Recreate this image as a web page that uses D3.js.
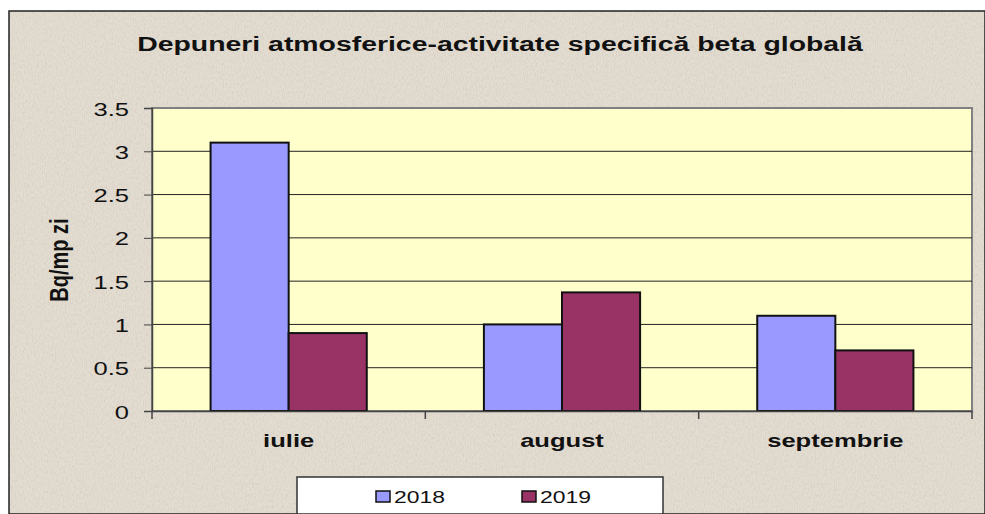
<!DOCTYPE html>
<html>
<head>
<meta charset="utf-8">
<script src="https://cdn.jsdelivr.net/npm/d3@7"></script>
<style>
  body { margin: 0; background: #fff; }
  svg { display: block; font-family: Arial, "Liberation Sans", sans-serif; }
</style>
</head>
<body>
<svg width="985" height="514"></svg>
<script>
"use strict";

var months = ["iulie", "august", "septembrie"];
var years = ["2018", "2019"];
var values2018 = [3.1, 1.0, 1.1];
var values2019 = [0.9, 1.37, 0.7];
var yTicks = [0, 0.5, 1, 1.5, 2, 2.5, 3, 3.5];

var color = { "2018": "#9999ff", "2019": "#993366" };

// the original picture is stretched sideways, so text is widened too
var stretch = 1.42;

var svg = d3.select("svg"),
    width = +svg.attr("width"),
    height = +svg.attr("height");

var defs = svg.append("defs");
var noise = defs.append("filter").attr("id", "paper").attr("x", 0).attr("y", 0).attr("width", "100%").attr("height", "100%");
noise.append("feTurbulence").attr("type", "fractalNoise").attr("baseFrequency", "0.9 0.35").attr("numOctaves", 2).attr("seed", 4);
noise.append("feColorMatrix").attr("type", "matrix")
  .attr("values", "0 0 0 0 0.45  0 0 0 0 0.40  0 0 0 0 0.33  0 0 0 -1.6 0.95");
noise.append("feComposite").attr("in2", "SourceGraphic").attr("operator", "in");

// textured beige background with a dark frame
svg.append("rect").attr("x", 0).attr("y", 0).attr("width", width).attr("height", height).attr("fill", "#fff");
svg.append("rect").attr("x", 9).attr("y", 11).attr("width", width - 9).attr("height", height - 11)
  .attr("fill", "#e3dcd1");
svg.append("rect").attr("x", 9).attr("y", 11).attr("width", width - 9).attr("height", height - 11)
  .attr("fill", "#000").attr("filter", "url(#paper)").attr("opacity", 0.35);
svg.append("rect").attr("x", 9).attr("y", 11).attr("width", width - 9).attr("height", height - 11)
  .attr("fill", "none").attr("stroke", "#222").attr("stroke-width", 1.5);

var plot = { left: 152, top: 108, right: 972, bottom: 411 };

var x0 = d3.scaleBand().domain(months).range([plot.left, plot.right]).paddingInner(0).paddingOuter(0);
var x1 = d3.scaleBand().domain(years).range([0, x0.bandwidth()]).paddingInner(0).paddingOuter(0.75);
var y = d3.scaleLinear().domain([0, 3.5]).range([plot.bottom, plot.top]);

svg.append("rect")
  .attr("x", plot.left).attr("y", plot.top)
  .attr("width", plot.right - plot.left).attr("height", plot.bottom - plot.top)
  .attr("fill", "#ffffcc").attr("stroke", "#808080").attr("stroke-width", 2);

// gridlines
svg.append("g").selectAll("line").data(yTicks.filter(function (d) { return d > 0 && d < 3.5; }))
  .enter().append("line")
  .attr("x1", plot.left).attr("x2", plot.right)
  .attr("y1", function (d) { return y(d); }).attr("y2", function (d) { return y(d); })
  .attr("stroke", "#222").attr("stroke-width", 1);

var table = months.map(function (m, i) {
  return { month: m, vals: [{ year: "2018", v: values2018[i] }, { year: "2019", v: values2019[i] }] };
});

var groups = svg.append("g").selectAll("g").data(table).enter().append("g")
  .attr("transform", function (d) { return "translate(" + x0(d.month) + ",0)"; });

groups.selectAll("rect").data(function (d) { return d.vals; }).enter().append("rect")
  .attr("x", function (d) { return x1(d.year); })
  .attr("y", function (d) { return y(d.v); })
  .attr("width", x1.bandwidth())
  .attr("height", function (d) { return y(0) - y(d.v); })
  .attr("fill", function (d) { return color[d.year]; })
  .attr("stroke", "#111").attr("stroke-width", 2);

// y axis
var yAxis = svg.append("g").attr("transform", "translate(" + plot.left + ",0)")
  .call(d3.axisLeft(y).tickValues(yTicks).tickSize(8).tickPadding(0).tickFormat(function (d) { return String(d); }));
yAxis.select(".domain").attr("stroke", "#444").attr("stroke-width", 1.5);
yAxis.selectAll(".tick line").attr("stroke", "#444");
yAxis.selectAll("text")
  .attr("x", 0).attr("dy", null)
  .attr("transform", "translate(-23,7) scale(" + stretch + ",1)")
  .attr("font-size", 18).attr("fill", "#111")
  .attr("font-family", "Arial, 'Liberation Sans', sans-serif");

// x axis
var xAxis = svg.append("g").attr("transform", "translate(0," + plot.bottom + ")")
  .call(d3.axisBottom(x0).tickSize(0).tickPadding(0));
xAxis.select(".domain").attr("stroke", "#444").attr("stroke-width", 1.5);
xAxis.selectAll("text")
  .attr("y", 0).attr("dy", null)
  .attr("transform", "translate(0,36) scale(" + stretch + ",1)")
  .attr("font-size", 18).attr("font-weight", "bold").attr("fill", "#111")
  .attr("font-family", "Arial, 'Liberation Sans', sans-serif");
svg.append("g").selectAll("line").data(months.concat(["end"])).enter().append("line")
  .attr("x1", function (d, i) { return plot.left + i * x0.bandwidth(); })
  .attr("x2", function (d, i) { return plot.left + i * x0.bandwidth(); })
  .attr("y1", plot.bottom).attr("y2", plot.bottom + 8)
  .attr("stroke", "#444").attr("stroke-width", 1.5);

// title
svg.append("text").attr("transform", "translate(500,51) scale(" + stretch + ",1)").attr("text-anchor", "middle")
  .attr("font-size", 20).attr("font-weight", "bold").attr("fill", "#111")
  .text("Depuneri atmosferice-activitate specifică beta globală");

// y label
svg.append("text").attr("transform", "translate(68,260) scale(1.3,1) rotate(-90)").attr("text-anchor", "middle")
  .attr("font-size", 20).attr("font-weight", "bold").attr("fill", "#111")
  .text("Bq/mp zi");

// legend
var legend = svg.append("g");
legend.append("rect").attr("x", 297).attr("y", 477).attr("width", 366).attr("height", 37)
  .attr("fill", "#fff").attr("stroke", "#333").attr("stroke-width", 1.5);
var items = legend.selectAll("g").data(years).enter().append("g")
  .attr("transform", function (d, i) { return "translate(" + (376 + i * 146) + ",491)"; });
items.append("rect").attr("width", 14).attr("height", 11)
  .attr("fill", function (d) { return color[d]; }).attr("stroke", "#111").attr("stroke-width", 1.5);
items.append("text").attr("transform", "translate(18,12) scale(1.35,1)").attr("font-size", 17).attr("fill", "#111")
  .text(function (d) { return d; });
</script>
</body>
</html>
